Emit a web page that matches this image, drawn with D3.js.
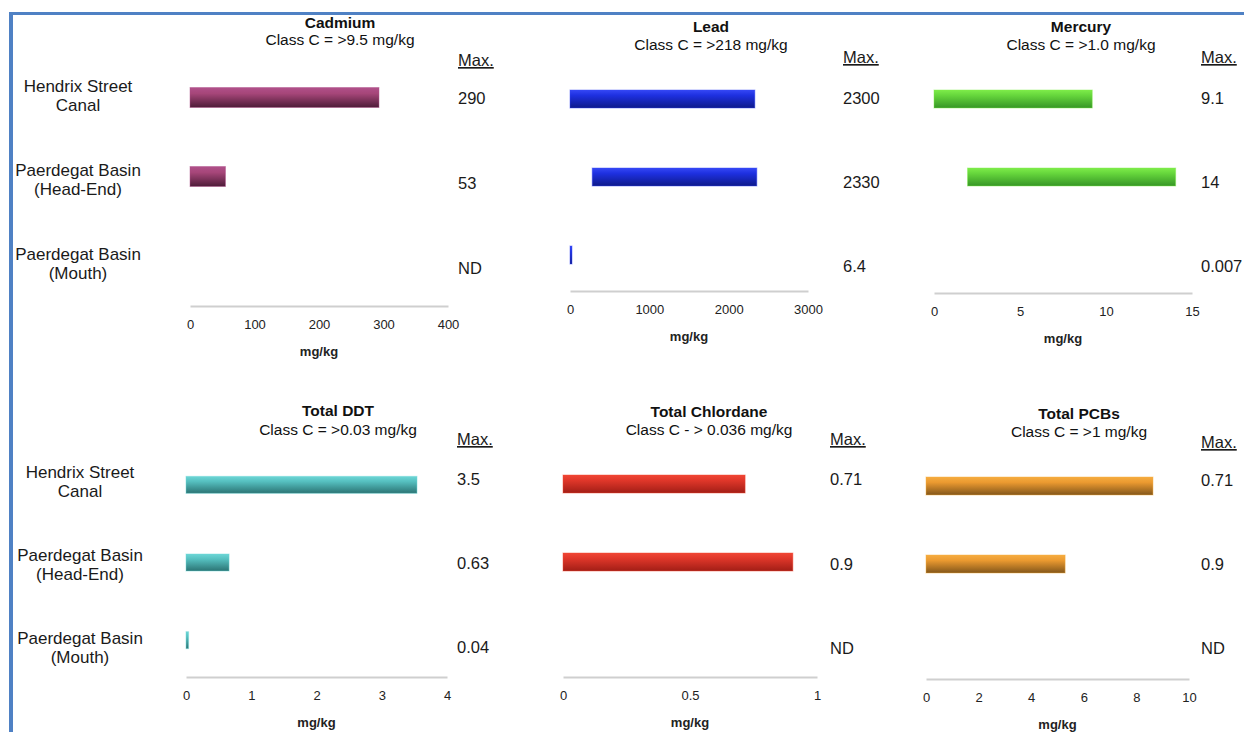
<!DOCTYPE html>
<html>
<head>
<meta charset="utf-8">
<script src="https://cdn.jsdelivr.net/npm/d3@7"></script>
<style>
  html, body { margin: 0; padding: 0; background: #fff; }
  svg { display: block; font-family: "Liberation Sans", Arial, Helvetica, sans-serif; }
</style>
</head>
<body>
<svg id="chart" width="1244" height="732"></svg>
<script>
// ---------------- DATA ----------------
const sites = [["Hendrix Street", "Canal"], ["Paerdegat Basin", "(Head-End)"], ["Paerdegat Basin", "(Mouth)"]];
const siteKeys = ["Hendrix", "HeadEnd", "Mouth"];
const contaminants = ["Cadmium", "Lead", "Mercury", "Total DDT", "Total Chlordane", "Total PCBs"];
const classC = ["Class C = >9.5 mg/kg", "Class C = >218 mg/kg", "Class C = >1.0 mg/kg",
                "Class C = >0.03 mg/kg", "Class C - > 0.036 mg/kg", "Class C = >1 mg/kg"];
const axisMax = [400, 3000, 15, 4, 1, 10];
const tickValues = [[0, 100, 200, 300, 400], [0, 1000, 2000, 3000], [0, 5, 10, 15],
                    [0, 1, 2, 3, 4], [0, 0.5, 1], [0, 2, 4, 6, 8, 10]];
const tickLabels = [["0", "100", "200", "300", "400"], ["0", "1000", "2000", "3000"], ["0", "5", "10", "15"],
                    ["0", "1", "2", "3", "4"], ["0", "0.5", "1"], ["0", "2", "4", "6", "8", "10"]];
// range bars: low / high for each site (null = no bar drawn)
const rangeLow  = [[0, 0, null], [0, 280, 0], [0, 1.95, null], [0, 0, 0], [0, 0, null], [0, 0, null]];
const rangeHigh = [[293, 55, null], [2330, 2355, 6.4], [9.2, 14.05, null], [3.54, 0.66, 0.04], [0.717, 0.905, null], [8.63, 5.29, null]];
const maxLabels = [["290", "53", "ND"], ["2300", "2330", "6.4"], ["9.1", "14", "0.007"],
                   ["3.5", "0.63", "0.04"], ["0.71", "0.9", "ND"], ["0.71", "0.9", "ND"]];
const unitLabel = "mg/kg";
const maxHeader = "Max.";

// ---------------- STYLE / LAYOUT ----------------
const colors = [
  ["#b0508a", "#a64679", "#4e1c38"],
  ["#3548f5", "#1e30e0", "#0e1a8a"],
  ["#7eec4a", "#66d63c", "#369626"],
  ["#6cd6d6", "#56c0c0", "#2b7474"],
  ["#f04634", "#e0372a", "#a21e16"],
  ["#f6ac40", "#eb9a30", "#83561a"]
];
// per panel layout
const layout = [
  {x0: 190, w: 258, titleX: 340, titleY: 28, subY: 45, axisY: 306, barTop: 58, barBot: 295, barH: 20, maxX: 458, maxY: 66, valTop: 104, valBot: 274},
  {x0: 570, w: 238, titleX: 711, titleY: 32, subY: 50, axisY: 291, barTop: 60, barBot: 294, barH: 18, maxX: 843, maxY: 63, valTop: 104, valBot: 272},
  {x0: 934, w: 258, titleX: 1081, titleY: 32, subY: 50, axisY: 293, barTop: 60, barBot: 294, barH: 18, maxX: 1201, maxY: 63, valTop: 104, valBot: 272},
  {x0: 186, w: 261, titleX: 338, titleY: 416, subY: 435, axisY: 677, barTop: 446, barBot: 679, barH: 17, maxX: 457, maxY: 445, valTop: 485, valBot: 653},
  {x0: 563, w: 254, titleX: 709, titleY: 417, subY: 435, axisY: 677, barTop: 445, barBot: 679, barH: 18, maxX: 830, maxY: 445, valTop: 485, valBot: 654},
  {x0: 926, w: 263, titleX: 1079, titleY: 419, subY: 437, axisY: 679, barTop: 447, barBot: 681, barH: 18, maxX: 1201, maxY: 448, valTop: 486, valBot: 654}
];
const siteLabelLayout = [
  {cx: 78, top: 92, bot: 260},
  {cx: 80, top: 478, bot: 644}
];

const svg = d3.select("#chart");

// border
svg.append("line").attr("x1", 9).attr("x2", 1244).attr("y1", 13.5).attr("y2", 13.5)
  .attr("stroke", "#4f81c4").attr("stroke-width", 3);
svg.append("line").attr("x1", 11).attr("x2", 11).attr("y1", 12).attr("y2", 732)
  .attr("stroke", "#4f81c4").attr("stroke-width", 4);

const defs = svg.append("defs");
colors.forEach((c, i) => {
  const g = defs.append("linearGradient").attr("id", "grad" + i)
    .attr("x1", 0).attr("x2", 0).attr("y1", 0).attr("y2", 1);
  g.append("stop").attr("offset", "0%").attr("stop-color", c[0]);
  g.append("stop").attr("offset", "30%").attr("stop-color", c[1]);
  g.append("stop").attr("offset", "100%").attr("stop-color", c[2]);
});

// site labels (left side of each row)
siteLabelLayout.forEach(sl => {
  const ys = d3.scalePoint().domain(siteKeys).range([sl.top, sl.bot]);
  const g = svg.append("g");
  sites.forEach((lines, i) => {
    const t = g.append("text").attr("text-anchor", "middle")
      .attr("font-size", 17).attr("fill", "#1a1a1a");
    lines.forEach((ln, j) => {
      t.append("tspan").attr("x", sl.cx).attr("y", ys(siteKeys[i]) + j * 19).text(ln);
    });
  });
});

contaminants.forEach((name, p) => {
  const L = layout[p];
  const g = svg.append("g");
  const x = d3.scaleLinear().domain([0, axisMax[p]]).range([L.x0, L.x0 + L.w]);
  const y = d3.scaleBand().domain(siteKeys).range([L.barTop, L.barBot]).paddingInner(0).paddingOuter(0);
  const yv = d3.scalePoint().domain(siteKeys).range([L.valTop, L.valBot]);

  // title
  g.append("text").attr("x", L.titleX).attr("y", L.titleY).attr("text-anchor", "middle")
    .attr("font-size", 15.5).attr("font-weight", "bold").attr("fill", "#111").text(name);
  g.append("text").attr("x", L.titleX).attr("y", L.subY).attr("text-anchor", "middle")
    .attr("font-size", 15.5).attr("fill", "#111").text(classC[p]);

  // axis
  const ax = d3.axisBottom(x).tickValues(tickValues[p])
    .tickFormat((d, i) => tickLabels[p][i]).tickSize(0).tickPadding(14);
  const axg = g.append("g").attr("transform", `translate(0,${L.axisY})`).call(ax);
  axg.select(".domain").attr("stroke", "#cfcfcf").attr("stroke-width", 2);
  axg.selectAll("text").attr("font-size", 13).attr("fill", "#222")
    .attr("font-family", "\"Liberation Sans\", Arial, sans-serif");
  g.append("text").attr("x", L.x0 + L.w / 2).attr("y", L.axisY + 50).attr("text-anchor", "middle")
    .attr("font-size", 13).attr("font-weight", "bold").attr("fill", "#222").text(unitLabel);

  // bars
  siteKeys.forEach((k, i) => {
    const lo = rangeLow[p][i], hi = rangeHigh[p][i];
    if (lo === null || hi === null) return;
    const xs = x(lo), w = Math.max(x(hi) - x(lo), 2);
    const cy = y(k) + y.bandwidth() / 2;
    g.append("rect").attr("x", xs).attr("y", cy - L.barH / 2)
      .attr("width", w).attr("height", L.barH)
      .attr("fill", `url(#grad${p})`)
      .attr("stroke", colors[p][0]).attr("stroke-opacity", 0.45).attr("stroke-width", 1);
  });

  // Max header and values
  g.append("text").attr("x", L.maxX).attr("y", L.maxY).attr("font-size", 16.5)
    .attr("fill", "#1a1a1a").attr("text-decoration", "underline").text(maxHeader);
  siteKeys.forEach((k, i) => {
    g.append("text").attr("x", L.maxX).attr("y", yv(k)).attr("font-size", 16.5)
      .attr("fill", "#1a1a1a").text(maxLabels[p][i]);
  });
});
</script>
</body>
</html>
